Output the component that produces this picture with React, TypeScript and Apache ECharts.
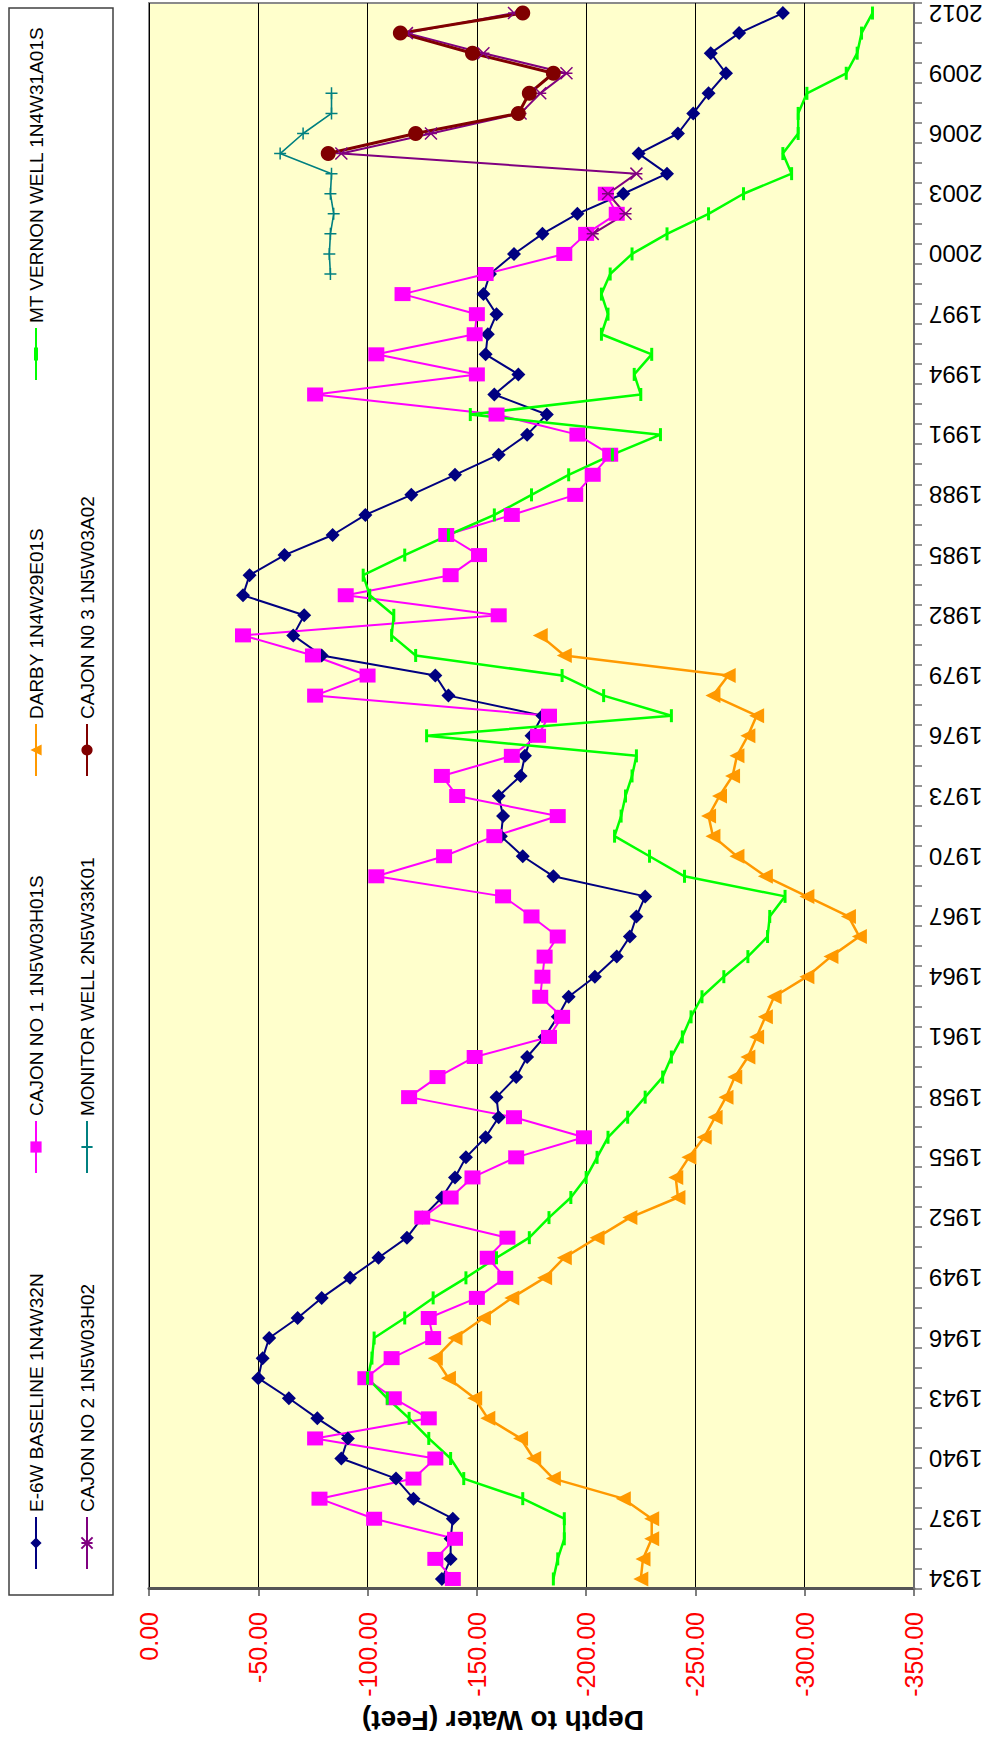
import React, { useEffect, useRef } from "react";
import * as echarts from "echarts";

// Years on the category axis (one category per year)
const years = [
  "1934", "1935", "1936", "1937", "1938", "1939", "1940", "1941", "1942", "1943",
  "1944", "1945", "1946", "1947", "1948", "1949", "1950", "1951", "1952", "1953",
  "1954", "1955", "1956", "1957", "1958", "1959", "1960", "1961", "1962", "1963",
  "1964", "1965", "1966", "1967", "1968", "1969", "1970", "1971", "1972", "1973",
  "1974", "1975", "1976", "1977", "1978", "1979", "1980", "1981", "1982", "1983",
  "1984", "1985", "1986", "1987", "1988", "1989", "1990", "1991", "1992", "1993",
  "1994", "1995", "1996", "1997", "1998", "1999", "2000", "2001", "2002", "2003",
  "2004", "2005", "2006", "2007", "2008", "2009", "2010", "2011", "2012",
];

const seriesNames = [
  "E-6W BASELINE 1N4W32N",
  "CAJON NO 1 1N5W03H01S",
  "DARBY 1N4W29E01S",
  "MT VERNON WELL 1N4W31A01S",
  "CAJON NO 2 1N5W03H02",
  "MONITOR WELL 2N5W33K01",
  "CAJON N0 3 1N5W03A02",
];

const e6wBaseline = [
  -134, -138, -138, -139, -121, -113, -88, -91, -77, -64,
  -50, -52, -55, -68, -79, -92, -105, -118, -125, -134,
  -140, -145, -154, -160, -159, -168, -173, -181, -187, -192,
  -204, -214, -220, -223, -227, -185, -171, -161, -162, -160,
  -170, -172, -175, -180, -137, -131, -79, -66, -71, -43,
  -46, -62, -84, -99, -120, -140, -160, -173, -182, -158,
  -169, -154, -155, -159, -153, -156, -167, -180, -196, -217,
  -237, -224, -242, -249, -256, -264, -257, -270, -290,
];

const cajonNo1 = [
  -139, -131, -140, -103, -78, -121, -131, -76, -128, -112,
  -99, -111, -130, -128, -150, -163, -155, -164, -125, -138,
  -148, -168, -199, -167, -119, -132, -149, -183, -189, -179,
  -180, -181, -187, -175, -162, -104, -135, -158, -187, -141,
  -134, -166, -178, -183, -76, -100, -75, -43, -160, -90,
  -138, -151, -136, -166, -195, -203, -211, -196, -159, -76,
  -150, -104, -149, -150, -116, -154, -190, -200, -214, -209,
  null, null, null, null, null, null, null, null, null,
];

const darby = [
  -225, -226, -230, -230, -217, -185, -176, -170, -155, -149,
  -137, -131, -140, -153, -166, -181, -190, -205, -220, -242,
  -241, -247, -254, -259, -264, -268, -274, -278, -282, -286,
  -301, -312, -325, -320, -301, -282, -269, -258, -256, -261,
  -267, -269, -274, -278, -258, -265, -190, -179, null, null,
  null, null, null, null, null, null, null, null, null, null,
  null, null, null, null, null, null, null, null, null, null,
  null, null, null, null, null, null, null, null, null,
];

const mtVernon = [
  -185, -187, -190, -190, -171, -144, -138, -128, -119, -109,
  -100, -102, -103, -117, -130, -145, -159, -174, -183, -193,
  -200, -205, -210, -219, -227, -235, -239, -244, -248, -253,
  -263, -274, -283, -284, -291, -245, -229, -213, -216, -218,
  -221, -223, -127, -239, -208, -189, -122, -111, -112, -101,
  -98, -117, -137, -158, -175, -192, -212, -234, -147, -225,
  -222, -230, -207, -210, -207, -211, -221, -237, -256, -272,
  -294, -290, -297, -297, -301, -319, -324, -326, -331,
];

const cajonNo2 = [
  null, null, null, null, null, null, null, null, null, null,
  null, null, null, null, null, null, null, null, null, null,
  null, null, null, null, null, null, null, null, null, null,
  null, null, null, null, null, null, null, null, null, null,
  null, null, null, null, null, null, null, null, null, null,
  null, null, null, null, null, null, null, null, null, null,
  null, null, null, null, null, null, null, -203, -218, -210,
  -223, -88, -129, -170, -179, -191, -153, -118, -167,
];

const monitorWell = [
  null, null, null, null, null, null, null, null, null, null,
  null, null, null, null, null, null, null, null, null, null,
  null, null, null, null, null, null, null, null, null, null,
  null, null, null, null, null, null, null, null, null, null,
  null, null, null, null, null, null, null, null, null, null,
  null, null, null, null, null, null, null, null, null, null,
  null, null, null, null, null, -83, -82.5, -83, -84.5, -83,
  -83.5, -60, -70.5, -83.5, -83.5, null, null, null, null,
];

const cajonNo3 = [
  null, null, null, null, null, null, null, null, null, null,
  null, null, null, null, null, null, null, null, null, null,
  null, null, null, null, null, null, null, null, null, null,
  null, null, null, null, null, null, null, null, null, null,
  null, null, null, null, null, null, null, null, null, null,
  null, null, null, null, null, null, null, null, null, null,
  null, null, null, null, null, null, null, null, null, null,
  null, -82, -122, -169, -174, -185, -148, -115, -171,
];

const FONT = "'Liberation Sans', Arial, Helvetica, sans-serif";
const STAR = "path://M0,0L10,10M10,0L0,10M5,0L5,10";
const PLUS = "path://M5,0L5,10M0,5L10,5";
const DASH_LEGEND = "path://M0,1H52V3H0Z M19.5,0H32.5V4H19.5Z";

export default function App() {
  const ref = useRef<HTMLDivElement>(null);

  useEffect(() => {
    if (!ref.current) return;
    const chart = echarts.init(ref.current, null, { renderer: "svg" });

    const mk = (
      name: string,
      data: (number | null)[],
      color: string,
      symbol: string,
      symbolSize: number | number[],
      width: number,
      stroke?: number
    ) => ({
      name,
      type: "line",
      data,
      symbol,
      symbolSize,
      showSymbol: true,
      showAllSymbol: true,
      connectNulls: false,
      silent: true,
      animation: false,
      lineStyle: { color, width },
      itemStyle: stroke
        ? { color, borderColor: color, borderWidth: stroke }
        : { color, borderWidth: 0 },
      emphasis: { disabled: true },
    });

    const series = [
      mk(seriesNames[0], e6wBaseline, "#000080", "diamond", 14, 2),
      mk(seriesNames[1], cajonNo1, "#FF00FF", "rect", [14, 16], 2),
      mk(seriesNames[2], darby, "#FF9900", "triangle", 15, 2.5),
      mk(seriesNames[3], mtVernon, "#00FF00", "rect", [13, 3], 2.5),
      mk(seriesNames[4], cajonNo2, "#800080", STAR, 12, 2, 1.5),
      mk(seriesNames[5], monitorWell, "#008080", PLUS, 12, 1.6, 1.5),
      mk(seriesNames[6], cajonNo3, "#800000", "circle", 15, 3),
    ];

    const legendSlots = [
      { left: 170, top: 25 },
      { left: 566, top: 25 },
      { left: 963, top: 25 },
      { left: 1360, top: 25 },
      { left: 170, top: 76 },
      { left: 566, top: 76 },
      { left: 963, top: 76 },
    ];

    chart.setOption({
      animation: false,
      backgroundColor: "#ffffff",
      textStyle: { fontFamily: FONT },
      grid: {
        left: 151,
        right: 3,
        top: 149,
        bottom: 78,
        show: true,
        backgroundColor: "#FFFFCC",
        borderColor: "#8a8a8a",
        borderWidth: 2,
      },
      xAxis: {
        type: "category",
        data: years,
        boundaryGap: true,
        axisLine: { show: true, onZero: false, lineStyle: { color: "#707070", width: 2 } },
        axisTick: { show: true, interval: 0, length: 8, lineStyle: { color: "#707070", width: 1.5 } },
        axisLabel: { interval: 2, rotate: 90, margin: 15, fontSize: 24, color: "#000", fontFamily: FONT },
        splitLine: { show: false },
      },
      yAxis: {
        type: "value",
        min: -350,
        max: 0,
        interval: 50,
        axisLine: { show: true, lineStyle: { color: "#555555", width: 3 } },
        axisTick: { show: true, length: 7, lineStyle: { color: "#555555", width: 1.5 } },
        axisLabel: {
          formatter: (v: number) => v.toFixed(2),
          color: "#FF0000",
          fontSize: 25,
          margin: 23,
          fontFamily: FONT,
        },
        splitLine: { show: true, lineStyle: { color: "#000000", width: 1 } },
      },
      legend: legendSlots.map((p, i) => ({
        data: i === 3 ? [{ name: seriesNames[i], icon: DASH_LEGEND }] : [seriesNames[i]],
        left: p.left,
        top: p.top,
        orient: "horizontal",
        padding: 0,
        itemWidth: 52,
        itemHeight: i === 3 ? 4 : 14,
        itemGap: 0,
        selectedMode: false,
        textStyle: { fontSize: 19, color: "#000", fontFamily: FONT, lineHeight: 22 },
      })),
      graphic: [
        {
          type: "rect",
          z: 0,
          silent: true,
          shape: { x: 145, y: 9, width: 1587, height: 104 },
          style: { fill: "#ffffff", stroke: "#404040", lineWidth: 1.5 },
        },
        {
          type: "text",
          z: 10,
          silent: true,
          x: 20,
          y: 503,
          rotation: Math.PI / 2,
          style: {
            text: "Depth to Water (Feet)",
            fontSize: 28,
            fontWeight: "bold",
            fontFamily: FONT,
            fill: "#000",
            align: "center",
            verticalAlign: "middle",
          },
        },
      ],
      series,
    });

    return () => chart.dispose();
  }, []);

  return (
    <div
      style={{
        position: "absolute",
        left: 0,
        top: 0,
        width: 992,
        height: 1740,
        overflow: "hidden",
        background: "#ffffff",
      }}
    >
      <div
        ref={ref}
        style={{
          position: "absolute",
          left: 0,
          top: 0,
          width: 1740,
          height: 992,
          transformOrigin: "0 0",
          transform: "translate(0px, 1740px) rotate(-90deg)",
        }}
      />
    </div>
  );
}
